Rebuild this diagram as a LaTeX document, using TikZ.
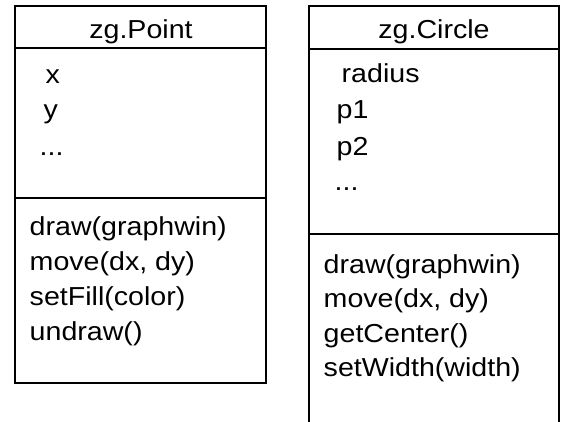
\documentclass[tikz,border=0pt]{standalone}
\usepackage{fontspec}
\newfontfamily\umlfont{Liberation Sans}[FakeStretch=1.1]
\tikzset{
  member/.style={anchor=base west, inner sep=0pt, font=\umlfont\fontsize{26}{31}\selectfont},
  classname/.style={member, anchor=base},
}

\begin{document}
\begin{tikzpicture}[x=1pt, y=-1pt, line width=1.4pt]
    \clip (0,0) rectangle (562,421);
    % zg.Point
    \draw (15,6) rectangle (266,383);
    \draw (15,48) -- (266,48);
    \draw (15,198) -- (266,198);
    \node[classname] (pointname) at (141,38) {zg.Point};
    \node[member] (px) at (45,83) {x};
    \node[member] (py) at (43,118) {y};
    \node[member] (pdots) at (39,155) {...};
    \node[member] (pdraw) at (29,235) {draw(graphwin)};
    \node[member] (pmove) at (29,270) {move(dx, dy)};
    \node[member] (pfill) at (29,305) {setFill(color)};
    \node[member] (pundraw) at (29,340) {undraw()};
    % zg.Circle (runs off the bottom)
    \draw (309,6) rectangle (559,440);
    \draw (309,49) -- (559,49);
    \draw (309,234) -- (559,234);
    \node[classname] (circlename) at (434,38) {zg.Circle};
    \node[member] (cradius) at (341,82) {radius};
    \node[member] (cpone) at (336,118) {p1};
    \node[member] (cptwo) at (336,155) {p2};
    \node[member] (cdots) at (334,190) {...};
    \node[member] (cdraw) at (323,273) {draw(graphwin)};
    \node[member] (cmove) at (323,307) {move(dx, dy)};
    \node[member] (ccenter) at (323,342) {getCenter()};
    \node[member] (cwidth) at (323,376) {setWidth(width)};
\end{tikzpicture}
\end{document}
